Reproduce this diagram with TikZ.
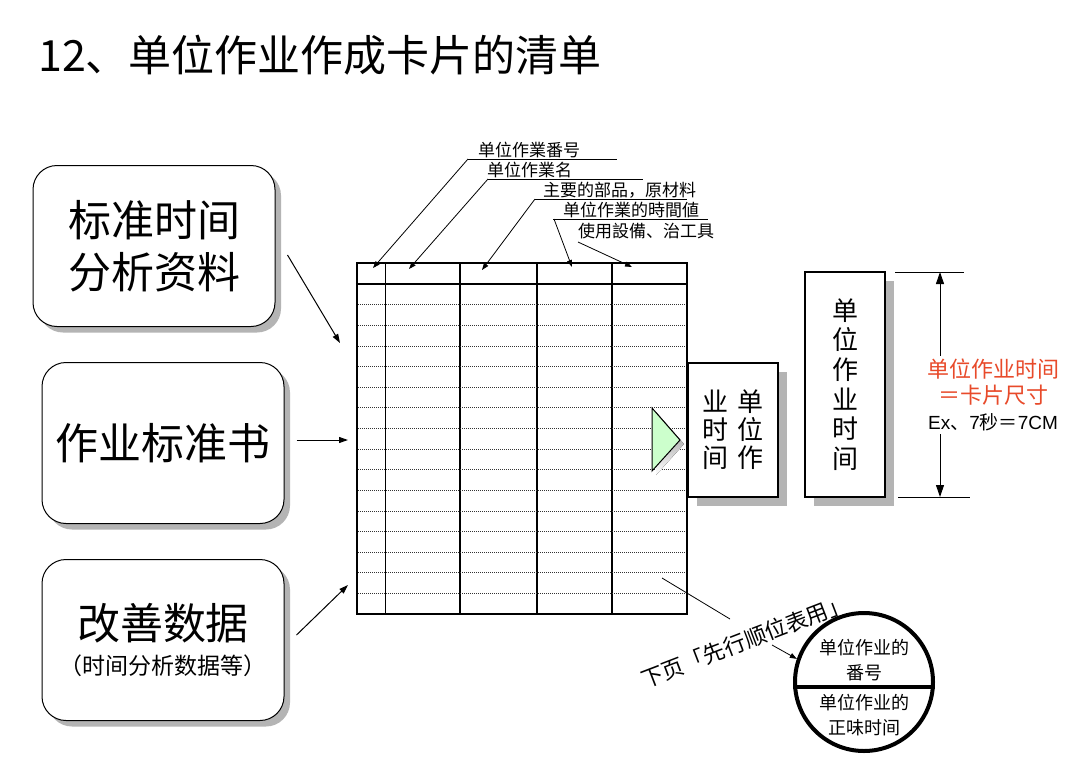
\documentclass[tikz,border=0pt]{standalone}
\usepackage{fontspec}
\setmainfont{Noto Sans CJK SC}
\newfontfamily\latinsans{Liberation Sans}
\usepackage{tikz}
\usetikzlibrary{positioning,arrows.meta,calc,shadows}
\usepackage{xcolor}
\definecolor{shade}{HTML}{B4B4B4}
\definecolor{sizered}{HTML}{E84A2A}
\definecolor{mint}{HTML}{CCFFCC}
\tikzset{
  srcbox/.style={draw, line width=1pt, rounded corners=24pt, fill=white, align=center,
              minimum width=242pt, minimum height=161pt, inner sep=0pt,
              font=\fontsize{43}{52}\selectfont,
              drop shadow={shadow xshift=6pt, shadow yshift=-6pt, fill=shade, opacity=1}},
  vbox/.style={draw, line width=1.2pt, fill=white, align=center, inner sep=0pt,
              font=\fontsize{26}{29.6}\selectfont,
              drop shadow={shadow xshift=9pt, shadow yshift=-9pt, fill=shade, opacity=1}},
  tag/.style={anchor=base west, inner sep=0pt, font=\fontsize{17}{17}\selectfont},
  lead/.style={line width=0.8pt, -{Triangle[length=7pt,width=5pt]}},
  feed/.style={line width=1pt, -{Triangle[length=9pt,width=6pt]}},
  rowline/.style={line width=0.7pt, black!80, dash pattern=on 1pt off 1pt},
  dimline/.style={line width=1pt, -{Triangle[length=12pt,width=8pt]}},
}

\begin{document}
\begin{tikzpicture}[x=1pt, y=-1pt]
\path[use as bounding box, fill=white] (0,0) rectangle (1080,764);

\node[anchor=base west, inner sep=0pt, font=\fontsize{43}{43}\selectfont] (title)
  at (38,71) {12、单位作业作成卡片的清单};

\node[srcbox] (std) at (154,246) {标准时间\\分析资料};
\node[srcbox] (manual) at (163,443) {作业标准书};
\node[srcbox, font=\fontsize{43}{35}\selectfont] (kaizen) at (163,640)
  {改善数据\\{\fontsize{23}{28}\selectfont （时间分析数据等）}};

\node[draw, line width=2.5pt, minimum width=330pt, minimum height=351pt, inner sep=0pt]
  (card) at (522,438.5) {};
\draw[line width=1.5pt] (card.west |- 0,284) -- (card.east |- 0,284);
\foreach \cx/\lw in {385/0.8, 460/1.5, 537/1.2, 612/1.2}
  \draw[line width=\lw pt] (\cx,263) -- (\cx,614);
\foreach \i in {1,...,15}
  \draw[rowline] (358,{284+20.625*\i}) -- (686,{284+20.625*\i});

\coordinate (in1) at (340,343);
\coordinate (in2) at (348,440);
\coordinate (in3) at (348,585);
\draw[feed] ([shift={(12,9)}]std.east) -- (in1);
\draw[feed] ([shift={(12,-3)}]manual.east) -- (in2);
\draw[feed] ([shift={(12,-5)}]kaizen.east) -- (in3);

\node[tag] (no) at (478,156) {单位作業番号};
\node[tag] (name) at (487,176) {单位作業名};
\node[tag] (parts) at (543,196) {主要的部品，原材料};
\node[tag] (val) at (563,216) {单位作業的時間値};
\node[tag] (tool) at (578,237) {使用設備、治工具};
\coordinate (u1) at (468,159);
\coordinate (u2) at (488,179);
\coordinate (u3) at (535,199);
\coordinate (u4) at (554,219);
\coordinate (u5) at (578,242);
\draw[line width=0.8pt] (u1) -- (617,159);
\draw[line width=0.8pt] (u2) -- (643,179);
\draw[line width=0.8pt] (u3) -- (687,199);
\draw[line width=0.8pt] (553,219) -- (708,219);
\draw[lead] (u1) -- (373,268);
\draw[lead] (u2) -- (409,269);
\draw[lead] (u3) -- (482,270);
\draw[lead] (u4) -- (572,267);
\draw[lead] (u5) -- (632,267);

\fill[shade] (656,412) -- (684,444) -- (656,475) -- cycle;
\filldraw[fill=mint, draw=black, line width=1pt] (652,408) -- (680,440) -- (652,471) -- cycle;

\node[vbox, minimum width=90pt, minimum height=134pt, font=\fontsize{26}{28}\selectfont]
  (blk) at (733,430) {业\hspace{9pt}单\\时\hspace{9pt}位\\间\hspace{9pt}作};
\node[vbox, minimum width=80pt, minimum height=225pt] (whole) at (845,384.5)
  {单\\位\\作\\业\\时\\间};

\coordinate (dimtop) at (940,272);
\coordinate (dimbot) at (940,497);
\draw[line width=1pt] (895,272) -- (964,272);
\draw[line width=1pt] (898,497) -- (970,497);
\node[align=center, inner sep=3pt, font=\fontsize{22}{26}\selectfont] (note) at (993,395)
  {\textcolor{sizered}{单位作业时间}\\\textcolor{sizered}{＝卡片尺寸}\\
   {\fontsize{19}{22}\selectfont{\latinsans Ex}、{\latinsans 7}秒＝{\latinsans 7CM}}};
\draw[dimline] (note.north -| dimtop) -- (dimtop);
\draw[dimline] (note.south -| dimtop) -- (dimbot);

\node[draw, circle, line width=4pt, minimum size=138pt, inner sep=0pt] (seq) at (864,682) {};
\draw[line width=4pt] ([yshift=-5pt]seq.west) -- ([yshift=-5pt]seq.east);
\node[align=center, inner sep=0pt, font=\fontsize{18}{25}\selectfont] (seqno) at (864,660)
  {单位作业的\\番号};
\node[align=center, inner sep=0pt, font=\fontsize{18}{25}\selectfont] (seqtm) at (864,715)
  {单位作业的\\正味时间};

\coordinate (from) at (662,578);
\coordinate (upto) at (730,619);
\draw[line width=0.8pt] (from) -- (upto);
\node[rotate=21, inner sep=0pt, font=\fontsize{22}{22}\selectfont] (nextpg) at (745,641)
  {下页「先行顺位表用」};
\coordinate (ptr) at (772,645);
\draw[lead] (ptr) -- (seq.161);
\end{tikzpicture}
\end{document}
